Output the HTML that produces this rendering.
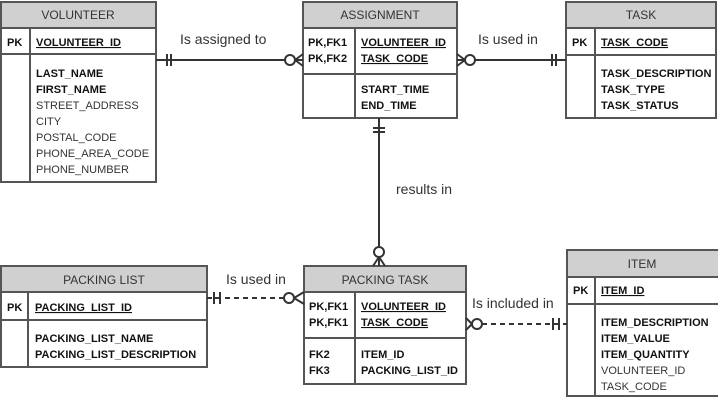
<!DOCTYPE html>
<html><head><meta charset="utf-8"><style>
html,body{margin:0;padding:0;background:#fff;}
svg{display:block;font-family:"Liberation Sans",sans-serif;}
.h{font-size:12px;fill:#333;text-anchor:middle}
.b{font-size:11px;font-weight:bold;fill:#111}
.n{font-size:11px;fill:#333}
.l{font-size:14px;fill:#333}
</style></head><body>
<svg width="718" height="402" viewBox="0 0 718 402">
<g stroke="#555" stroke-width="2" fill="none">
<rect x="1" y="2" width="155" height="26" fill="#d0d0d0"/>
<rect x="1" y="2" width="155" height="180"/>
<line x1="1" y1="54" x2="156" y2="54"/><line x1="30" y1="28" x2="30" y2="182"/>
<rect x="303" y="2" width="154" height="26" fill="#d0d0d0"/>
<rect x="303" y="2" width="154" height="116"/>
<line x1="303" y1="74" x2="457" y2="74"/><line x1="355" y1="28" x2="355" y2="118"/>
<rect x="566" y="2" width="150" height="26" fill="#d0d0d0"/>
<rect x="566" y="2" width="150" height="116"/>
<line x1="566" y1="55" x2="716" y2="55"/><line x1="595" y1="28" x2="595" y2="118"/>
<rect x="1" y="266" width="206" height="26" fill="#d0d0d0"/>
<rect x="1" y="266" width="206" height="101"/>
<line x1="1" y1="320" x2="207" y2="320"/><line x1="28" y1="292" x2="28" y2="367"/>
<rect x="304" y="266" width="162" height="26" fill="#d0d0d0"/>
<rect x="304" y="266" width="162" height="118"/>
<line x1="304" y1="338" x2="466" y2="338"/><line x1="355" y1="292" x2="355" y2="384"/>
<rect x="567" y="250" width="152" height="27" fill="#d0d0d0"/>
<rect x="567" y="250" width="152" height="146"/>
<line x1="567" y1="304" x2="719" y2="304"/><line x1="595" y1="277" x2="595" y2="396"/>
</g>
<g stroke="#333" stroke-width="2" fill="#fff">
<line x1="156" y1="60" x2="303" y2="60"/>
<line x1="167" y1="54" x2="167" y2="66"/><line x1="171" y1="54" x2="171" y2="66"/>
<circle cx="290" cy="60" r="5"/>
<path d="M295 60 L303 54 M295 60 L303 66" fill="none"/>
<line x1="457" y1="60" x2="566" y2="60"/>
<circle cx="470" cy="60" r="5"/>
<path d="M465 60 L457 54 M465 60 L457 66" fill="none"/>
<line x1="552" y1="54" x2="552" y2="66"/><line x1="556" y1="54" x2="556" y2="66"/>
<line x1="379" y1="118" x2="379" y2="266"/>
<line x1="373" y1="128" x2="385" y2="128"/><line x1="373" y1="132" x2="385" y2="132"/>
<circle cx="379" cy="252" r="5"/>
<path d="M379 257 L373 266 M379 257 L385 266" fill="none"/>
<line x1="207" y1="298" x2="284" y2="298" stroke-dasharray="5,4"/>
<line x1="214" y1="292" x2="214" y2="304"/><line x1="220" y1="292" x2="220" y2="304"/>
<line x1="214" y1="298" x2="220" y2="298"/>
<circle cx="289" cy="298" r="5"/>
<path d="M294 298 L304 292 M294 298 L304 304" fill="none"/>
<line x1="482" y1="324" x2="567" y2="324" stroke-dasharray="5,4"/>
<circle cx="477" cy="324" r="5"/>
<path d="M472 324 L466 318 M472 324 L466 330" fill="none"/>
<line x1="553" y1="318" x2="553" y2="330"/><line x1="559" y1="318" x2="559" y2="330"/>
<line x1="553" y1="324" x2="559" y2="324"/>
</g>
<text class="l" x="180" y="44">Is assigned to</text>
<text class="l" x="478" y="44">Is used in</text>
<text class="l" x="396" y="194">results in</text>
<text class="l" x="226" y="284">Is used in</text>
<text class="l" x="472" y="308">Is included in</text>
<text class="h" x="78" y="19">VOLUNTEER</text>
<text class="b" x="7" y="46">PK</text>
<text class="b" x="36" y="46" text-decoration="underline">VOLUNTEER_ID</text>
<text class="b" x="36" y="77">LAST_NAME</text>
<text class="b" x="36" y="93">FIRST_NAME</text>
<text class="n" x="36" y="109">STREET_ADDRESS</text>
<text class="n" x="36" y="125">CITY</text>
<text class="n" x="36" y="141">POSTAL_CODE</text>
<text class="n" x="36" y="157">PHONE_AREA_CODE</text>
<text class="n" x="36" y="173">PHONE_NUMBER</text>
<text class="h" x="380" y="19">ASSIGNMENT</text>
<text class="b" x="308" y="46">PK,FK1</text>
<text class="b" x="308" y="62">PK,FK2</text>
<text class="b" x="361" y="46" text-decoration="underline">VOLUNTEER_ID</text>
<text class="b" x="361" y="62" text-decoration="underline">TASK_CODE</text>
<text class="b" x="361" y="93">START_TIME</text>
<text class="b" x="361" y="109">END_TIME</text>
<text class="h" x="641" y="19">TASK</text>
<text class="b" x="572" y="46">PK</text>
<text class="b" x="601" y="46" text-decoration="underline">TASK_CODE</text>
<text class="b" x="601" y="77">TASK_DESCRIPTION</text>
<text class="b" x="601" y="93">TASK_TYPE</text>
<text class="b" x="601" y="109">TASK_STATUS</text>
<text class="h" x="104" y="284">PACKING LIST</text>
<text class="b" x="7" y="311">PK</text>
<text class="b" x="35" y="311" text-decoration="underline">PACKING_LIST_ID</text>
<text class="b" x="35" y="342">PACKING_LIST_NAME</text>
<text class="b" x="35" y="358">PACKING_LIST_DESCRIPTION</text>
<text class="h" x="385" y="284">PACKING TASK</text>
<text class="b" x="309" y="310">PK,FK1</text>
<text class="b" x="309" y="326">PK,FK1</text>
<text class="b" x="361" y="310" text-decoration="underline">VOLUNTEER_ID</text>
<text class="b" x="361" y="326" text-decoration="underline">TASK_CODE</text>
<text class="b" x="309" y="358">FK2</text>
<text class="b" x="309" y="374">FK3</text>
<text class="b" x="361" y="358">ITEM_ID</text>
<text class="b" x="361" y="374">PACKING_LIST_ID</text>
<text class="h" x="642" y="268">ITEM</text>
<text class="b" x="573" y="294">PK</text>
<text class="b" x="601" y="294" text-decoration="underline">ITEM_ID</text>
<text class="b" x="601" y="326">ITEM_DESCRIPTION</text>
<text class="b" x="601" y="342">ITEM_VALUE</text>
<text class="b" x="601" y="358">ITEM_QUANTITY</text>
<text class="n" x="601" y="374">VOLUNTEER_ID</text>
<text class="n" x="601" y="390">TASK_CODE</text>
</svg>
</body></html>
